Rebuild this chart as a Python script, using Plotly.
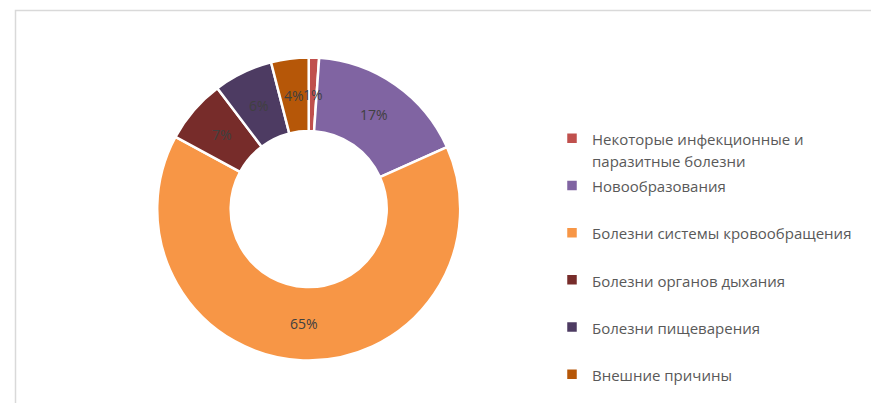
#%%
import math
import plotly.graph_objects as go

#%%
categories = [
    "Некоторые инфекционные и паразитные болезни",
    "Новообразования",
    "Болезни системы кровообращения",
    "Болезни органов дыхания",
    "Болезни пищеварения",
    "Внешние причины",
]
shares = [1.1, 17.2, 64.6, 6.8, 6.3, 4.0]
colors = ["#C0504D", "#8064A2", "#F79646", "#772C2A", "#4D3B62", "#B65708"]

#%%
W, H = 879, 403
off = 8                                      # page body margin
cx, cy, R = 308.7 - off, 209.0 - off, 151.5   # donut centre / radius in px
hole = 0.515

# legend labels: wrap long name, pad short ones to two lines so spacing matches
def legend_label(name, last=False):
    lines = name.replace(" и ", " и\n").split("\n")
    if len(lines) < 2 and not last:
        lines.append(" ")
    return "<br>".join("<span style='font-size:15px'>%s</span>" % l for l in lines)

labels = [legend_label(c, i == len(categories) - 1) for i, c in enumerate(categories)]

fig = go.Figure(go.Pie(
    labels=labels,
    values=shares,
    customdata=categories,
    hole=hole,
    sort=False,
    direction="clockwise",
    rotation=0,
    marker=dict(colors=colors, line=dict(color="white", width=2.5)),
    textinfo="none",
    hovertemplate="%{customdata}: %{percent}<extra></extra>",
    domain=dict(x=[(cx - R) / W, (cx + R) / W],
                y=[1 - (cy + R) / H, 1 - (cy - R) / H]),
))

#%%
# percent labels at mid-ring on each slice bisector (like Excel)
total = sum(shares)
r_mid = R * (1 + hole) / 2
annotations = []
cum = 0
for v in shares:
    ang = 2 * math.pi * (cum + v / 2) / total
    cum += v
    x = cx + r_mid * math.sin(ang)
    y = cy - r_mid * math.cos(ang)
    annotations.append(dict(
        x=x / W, y=1 - y / H, xref="paper", yref="paper",
        text="%d%%" % round(100 * v / total), showarrow=False,
        xanchor="center", yanchor="middle",
        font=dict(family="Open Sans", size=14, color="#404040"),
    ))

fig.update_layout(
    width=W, height=H,
    margin=dict(l=0, r=0, t=0, b=0),
    paper_bgcolor="white",
    plot_bgcolor="white",
    font=dict(family="Open Sans", color="#595959"),
    annotations=annotations,
    legend=dict(
        x=544 / W, xanchor="left",
        y=0.7203, yanchor="top",
        valign="top",
        font=dict(family="Open Sans", size=17, color="#595959"),
        bgcolor="rgba(0,0,0,0)",
    ),
    shapes=[dict(
        type="rect", xref="paper", yref="paper",
        x0=(15.5 - off) / W, x1=1.05, y0=-0.05, y1=1 - (10.5 - off) / H,
        line=dict(color="#D9D9D9", width=1.5),
    )],
)

fig.write_html("out.html")
